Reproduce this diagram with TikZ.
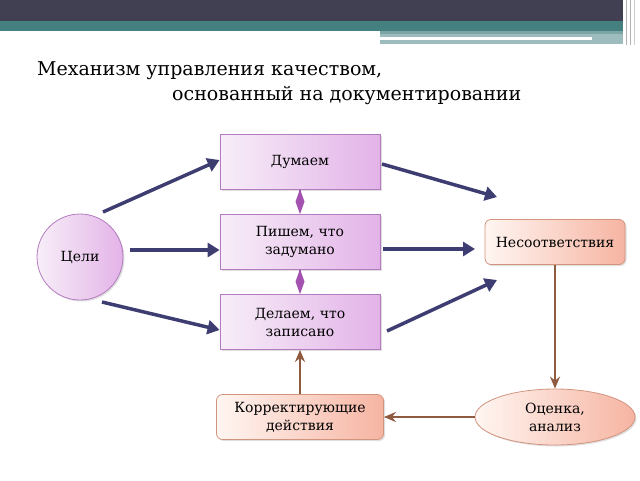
\documentclass[tikz,border=0pt]{standalone}
\usepackage{fontspec}
\setmainfont{DejaVu Serif}
\usetikzlibrary{arrows.meta,shapes.geometric,shadows}
\definecolor{banddark}{HTML}{404052}
\definecolor{bandteal}{HTML}{44807F}
\definecolor{bandlight}{HTML}{9DBCBD}
\definecolor{navyc}{HTML}{3E3D72}
\definecolor{brownc}{HTML}{8E5B40}
\definecolor{purpbord}{HTML}{B47CC0}
\definecolor{purpL}{HTML}{F7EEF8}
\definecolor{purpR}{HTML}{E3B3E8}
\definecolor{orgbord}{HTML}{D3947E}
\definecolor{orgL}{HTML}{FFF6F2}
\definecolor{orgR}{HTML}{F6B4A2}
\definecolor{diac}{HTML}{A452B0}
\tikzset{
  purpbox/.style={draw=purpbord, line width=0.8pt, left color=purpL, right color=purpR,
    minimum width=160pt, minimum height=55pt, align=center, font=\fontsize{14}{18}\selectfont,
    drop shadow={opacity=0.25, shadow xshift=1.5pt, shadow yshift=-1.5pt}},
  orgbox/.style={draw=orgbord, line width=0.8pt, left color=orgL, right color=orgR,
    rounded corners=6pt, align=center, font=\fontsize{14}{18}\selectfont,
    drop shadow={opacity=0.25, shadow xshift=1.5pt, shadow yshift=-1.5pt}},
  navyarrow/.style={draw=navyc, line width=3.5pt, -{Triangle[length=12pt,width=14pt]}},
  brownarrow/.style={draw=brownc, line width=2.5pt, -{Stealth[length=12pt,width=10pt]}},
  diaarrow/.style={draw=diac, line width=1.5pt, -{Diamond[length=25pt,width=9pt]}},
  titlefont/.style={font=\fontsize{19}{23}\selectfont}
}
\begin{document}
\begin{tikzpicture}[x=1pt,y=-1pt]
\useasboundingbox (0,0) rectangle (640,480);
% banner
\fill[banddark] (0,0) rectangle (623,21);
\fill[bandteal] (0,21) rectangle (623,31);
\fill[bandlight] (380,31) rectangle (623,44);
\fill[white] (380,37) rectangle (592,39.5);
\fill[bandteal!70] (380,31) rectangle (623,34);
\draw[gray!60, line width=0.8pt] (626,0) -- (626,45);
\draw[gray!60, line width=0.8pt] (630,0) -- (630,45);
\draw[gray!40, line width=0.8pt] (634,0) -- (634,45);
% title
\node[titlefont, anchor=base west, inner sep=0pt] (t1) at (37,75) {Механизм управления качеством,};
\node[titlefont, anchor=base west, inner sep=0pt] (t2) at (172,100) {основанный на документировании};
% nodes
\node[purpbox] (think) at (300,162) {Думаем};
\node[purpbox] (write) at (300,242) {Пишем, что\\задумано};
\node[purpbox] (do) at (300,322) {Делаем, что\\записано};
\node[circle, draw=purpbord, line width=0.8pt, left color=purpL, right color=purpR, minimum size=86pt,
  font=\fontsize{14}{18}\selectfont, drop shadow={opacity=0.25, shadow xshift=1.5pt, shadow yshift=-1.5pt}] (goal) at (80,257) {Цели};
\node[orgbox, minimum width=140pt, minimum height=45pt] (nonc) at (555,242) {Несоответствия};
\node[orgbox, ellipse, rounded corners=0pt, minimum width=160pt, minimum height=56pt] (eval) at (555,417) {Оценка,\\анализ};
\node[orgbox, minimum width=167pt, minimum height=45pt] (corr) at (300,417) {Корректирующие\\действия};
% free ends
\coordinate (g1) at (103,212);
\coordinate (g3) at (102,302);
\coordinate (n1) at (497,197);
\coordinate (n3) at (497,280);
\coordinate (s1) at (382,164);
\coordinate (s3) at (387,331);
% arrows
\draw[navyarrow] (g1) -- (think.west |- 0,160) ;
\draw[navyarrow] (goal.east |- 0,250) ++(7,0) -- (write.west |- 0,250);
\draw[navyarrow] (g3) -- (do.west |- 0,330);
\draw[navyarrow] (s1) -- (n1);
\draw[navyarrow] (write.east |- 0,249) ++(3,0) -- (475,249) coordinate (n2);
\draw[navyarrow] (s3) -- (n3);
\draw[diaarrow] (think.south) -- (write.north);
\draw[diaarrow] (write.south) -- (do.north);
\draw[brownarrow] (nonc.south) -- (eval.north);
\draw[brownarrow] (eval.west) -- (corr.east);
\draw[brownarrow] (corr.north) -- (do.south);
\end{tikzpicture}
\end{document}
